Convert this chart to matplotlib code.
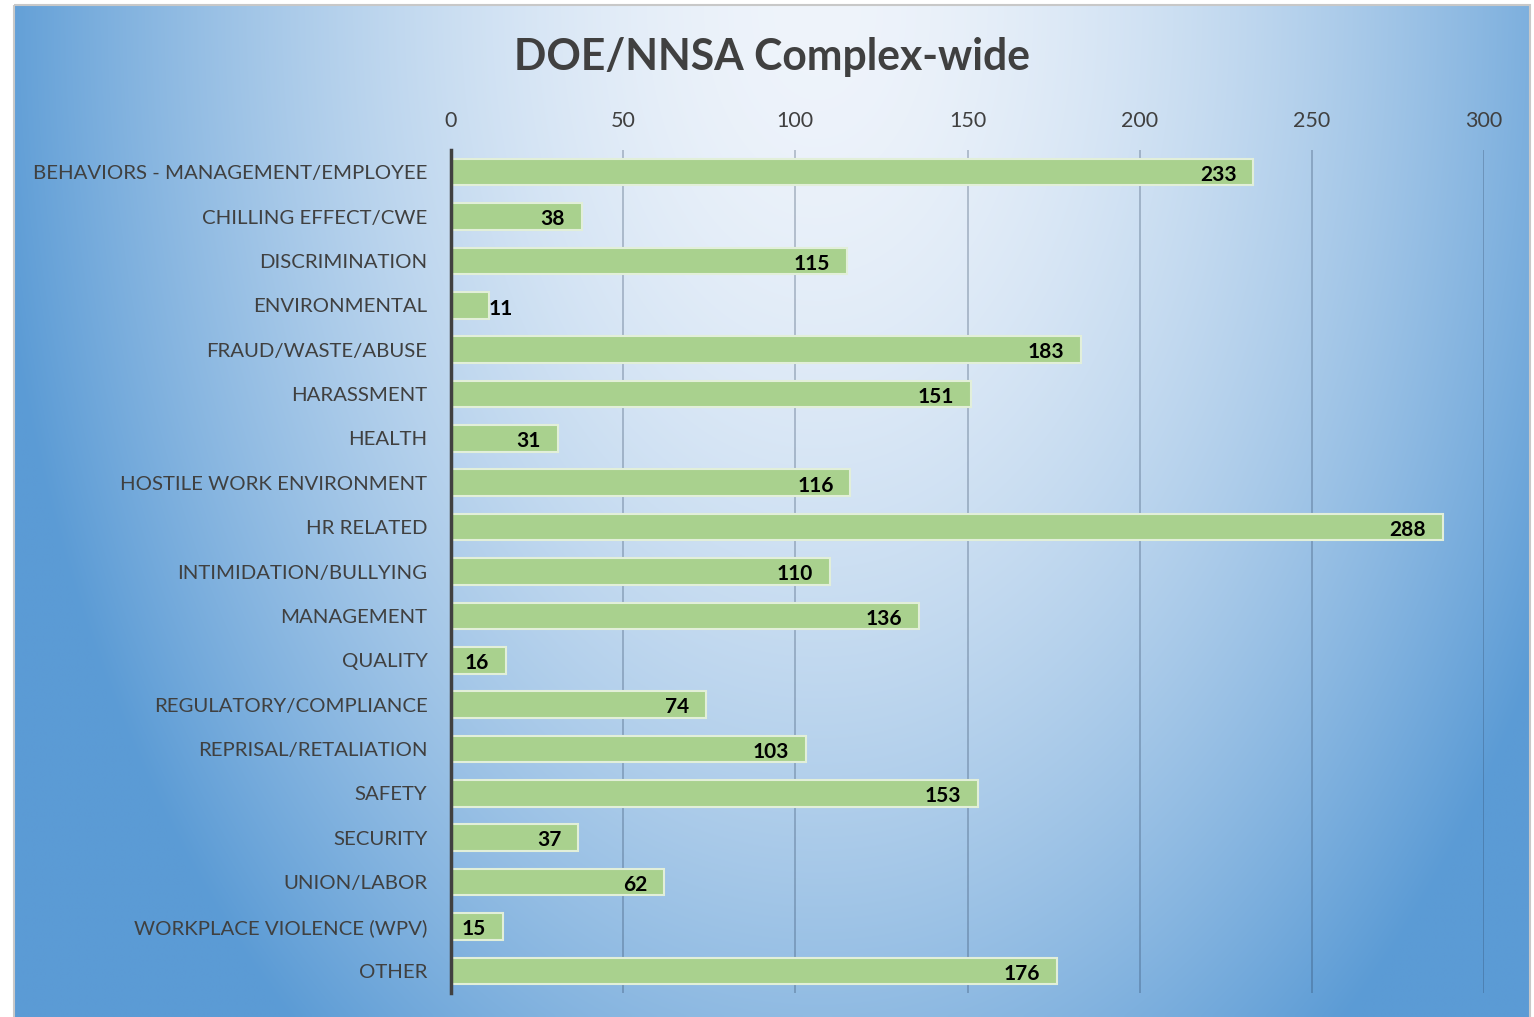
import numpy as np
import matplotlib
matplotlib.use("Agg")
import matplotlib.pyplot as plt
from matplotlib.colors import to_rgb
from matplotlib.patches import Rectangle

plt.rcParams['font.family'] = ['Lato', 'DejaVu Sans']

categories = [
    "BEHAVIORS - MANAGEMENT/EMPLOYEE",
    "CHILLING EFFECT/CWE",
    "DISCRIMINATION",
    "ENVIRONMENTAL",
    "FRAUD/WASTE/ABUSE",
    "HARASSMENT",
    "HEALTH",
    "HOSTILE WORK ENVIRONMENT",
    "HR RELATED",
    "INTIMIDATION/BULLYING",
    "MANAGEMENT",
    "QUALITY",
    "REGULATORY/COMPLIANCE",
    "REPRISAL/RETALIATION",
    "SAFETY",
    "SECURITY",
    "UNION/LABOR",
    "WORKPLACE VIOLENCE (WPV)",
    "OTHER",
]
counts = [233, 38, 115, 11, 183, 151, 31, 116, 288, 110, 136, 16, 74, 103, 153, 37, 62, 15, 176]
x_ticks = [0, 50, 100, 150, 200, 250, 300]

W, H = 1534, 1017
fig = plt.figure(figsize=(W / 100, H / 100), dpi=100)

# gradient background panel (light at top centre, blue towards the edges)
bg = fig.add_axes([0, 0, 1, 1], zorder=0)
bg.set_xlim(0, W)
bg.set_ylim(H, 0)
bg.axis('off')
gx, gy = np.meshgrid(np.linspace(0, 1, 400), np.linspace(0, 1, 270))
dx = (gx - 0.53) / 0.55
dy = (gy - 0.0) / 1.3
t = np.clip(np.sqrt(dx ** 2 + dy ** 2), 0, 1) ** 1.7
light = np.array(to_rgb('#eff4fb'))
blue = np.array(to_rgb('#5b9bd5'))
img = light + (blue - light) * t[..., None]
bg.imshow(img, extent=(14, 1530, H, 5), aspect='auto', interpolation='bilinear')
bg.add_patch(Rectangle((14, 5), 1516, 1020, fill=False, edgecolor='#c8c8c8', linewidth=1.5))

ax = fig.add_axes([451 / W, 1 - 993 / H, (1484 - 451) / W, (993 - 150) / H], zorder=1)
ax.set_facecolor('none')

y = np.arange(len(categories))
bars = ax.barh(y, counts, height=0.6, color='#a9d18e', edgecolor='#e2efd9', linewidth=1.5, zorder=3)

for val, yy in zip(counts, y):
    if val < 13:
        ax.annotate(str(val), (val, yy), xytext=(0, -3), textcoords='offset points',
                    ha='left', va='center', fontsize=15, fontweight='bold', color='black', zorder=4)
    else:
        ax.annotate(str(val), (val, yy), xytext=(-12, -2), textcoords='offset points',
                    ha='right', va='center', fontsize=15, fontweight='bold', color='black', zorder=4)

ax.set_xlim(0, 300)
ax.set_ylim(len(categories) - 0.5, -0.5)
ax.set_xticks(x_ticks)
ax.set_yticks(y)
ax.set_yticklabels(categories)
ax.xaxis.tick_top()
ax.tick_params(axis='x', length=0, pad=14, labelsize=15.5, labelcolor='#404040')
ax.tick_params(axis='y', length=0, pad=17, labelsize=14.7, labelcolor='#404040')
ax.grid(axis='x', color='#2a3f5c', alpha=0.3, linewidth=1.3, zorder=1)
for s in ['top', 'right', 'bottom']:
    ax.spines[s].set_visible(False)
ax.spines['left'].set_color('#404040')
ax.spines['left'].set_linewidth(2.5)
ax.spines['left'].set_zorder(5)

fig.text(772 / W, 1 - 57 / H, "DOE/NNSA Complex-wide", ha='center', va='center',
         fontsize=30.7, fontweight='bold', color='#404040')

fig.savefig('out.png', dpi=100)
